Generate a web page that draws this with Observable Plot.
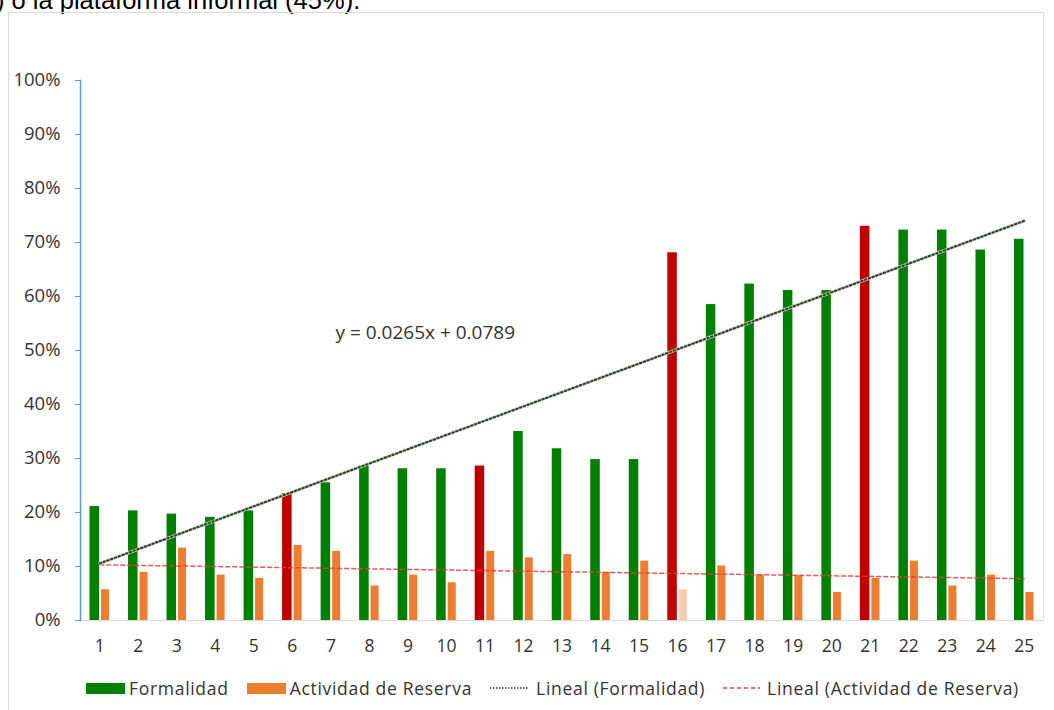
<!DOCTYPE html>
<html>
<head>
<meta charset="utf-8">
<script src="https://cdn.jsdelivr.net/npm/d3@7"></script>
<script src="https://cdn.jsdelivr.net/npm/@observablehq/plot@0.6"></script>
<style>
  html, body { margin: 0; padding: 0; background: #fff; }
  body { width: 1054px; height: 710px; position: relative; overflow: hidden; font-family: "Open Sans", sans-serif; }
  #doctext { position: absolute; left: -4px; top: -13px; font-family: "Liberation Sans", Arial, sans-serif; font-size: 25.5px; line-height: 27px; color: #000; white-space: nowrap; }
  #frameL { position: absolute; left: 8px; top: 12px; width: 1035px; height: 760px; border-left: 1px solid #D9D9D9; border-top: 1px solid #D9D9D9; }
  #frameR { position: absolute; left: 1043px; top: 12px; width: 0; height: 608px; border-left: 1px solid #E6E6E6; }
  #chart { position: absolute; left: 0; top: 60px; }
  #legend { position: absolute; left: 86px; top: 676px; display: flex; align-items: center; font-family: "Open Sans", sans-serif; font-size: 17.5px; letter-spacing: 0.7px; color: #333; white-space: nowrap; }
  #legend .item { display: flex; align-items: center; margin-right: 18px; }
  #legend .sw { width: 39px; height: 11px; margin-right: 4px; }
  #legend svg { margin-right: 7px; }
</style>
</head>
<body>
<div id="doctext">) o la plataforma informal (45%).</div>
<div id="frameL"></div>
<div id="frameR"></div>
<div id="chart"></div>
<div id="legend"></div>
<script>
// ---- data ----
const categories = d3.range(1, 26);
const formalidad = [0.211, 0.203, 0.197, 0.191, 0.203, 0.235, 0.255, 0.286, 0.281, 0.281,
                    0.286, 0.350, 0.318, 0.298, 0.298, 0.681, 0.585, 0.623, 0.611, 0.611,
                    0.730, 0.723, 0.723, 0.686, 0.706];
const reserva    = [0.057, 0.089, 0.134, 0.084, 0.078, 0.139, 0.128, 0.064, 0.084, 0.070,
                    0.128, 0.116, 0.122, 0.089, 0.110, 0.057, 0.101, 0.084, 0.083, 0.052,
                    0.078, 0.110, 0.064, 0.084, 0.052];
const highlighted = [6, 11, 16, 21];     // Formalidad bars drawn in red
const fadedReserva = [16];               // Actividad bar drawn pale
const yTicks = d3.range(0, 11).map(d => d / 10);
const seriesNames = ["Formalidad", "Actividad de Reserva", "Lineal (Formalidad)", "Lineal (Actividad de Reserva)"];
const equationLabel = "y = 0.0265x + 0.0789";

const colors = { green: "#008000", red: "#C00000", orange: "#ED7D31", pale: "#F8CBAD",
                 trendF: "#2F3D2F", trendFHalo: "#C5D0BA", trendR: "#E0403C", axisBlue: "#5B9BD5", grid: "#D9D9D9" };

// ---- tables ----
const rows = categories.map((c, i) => ({ cat: c, f: formalidad[i], r: reserva[i] }));

function linreg(xs, ys) {
  const mx = d3.mean(xs), my = d3.mean(ys);
  const b = d3.sum(xs, (x, i) => (x - mx) * (ys[i] - my)) / d3.sum(xs, x => (x - mx) ** 2);
  return [b, my - b * mx];
}
const [bF, aF] = linreg(categories, formalidad);
const [bR, aR] = linreg(categories, reserva);
const ends = [categories[0], categories[categories.length - 1]];
const trendF = ends.map(x => ({ cat: x, y: aF + bF * x }));
const trendR = ends.map(x => ({ cat: x, y: aR + bR * x }));

const plot = Plot.plot({
  width: 1054,
  height: 610,
  marginLeft: 80,
  marginRight: 11,
  marginTop: 20,
  marginBottom: 50,
  style: { fontFamily: "Open Sans, sans-serif", fontSize: "17px", color: "#333", background: "transparent" },
  x: { type: "band", domain: categories, padding: 0, round: false, label: null, axis: null },
  y: { domain: [0, 1], label: null, axis: null },
  marks: [
    Plot.ruleY([0], { stroke: colors.grid, strokeWidth: 1.2 }),
    Plot.barY(rows, {
      x: "cat", y: "f",
      fill: d => highlighted.includes(d.cat) ? colors.red : colors.green,
      insetLeft: 9.5, insetRight: 19.5
    }),
    Plot.barY(rows, {
      x: "cat", y: "r",
      fill: d => fadedReserva.includes(d.cat) ? colors.pale : colors.orange,
      insetLeft: 21, insetRight: 9.5
    }),
    Plot.line(trendR, { x: "cat", y: "y", stroke: colors.trendR, strokeWidth: 1.5, strokeDasharray: "4,3", strokeOpacity: 0.85 }),
    Plot.line(trendF, { x: "cat", y: "y", stroke: colors.trendFHalo, strokeWidth: 3.2 }),
    Plot.line(trendF, { x: "cat", y: "y", stroke: colors.trendF, strokeWidth: 2, strokeDasharray: "1.5,2.5" }),
    Plot.text([equationLabel], { frameAnchor: "top-left", dx: 255, dy: 245, textAnchor: "start", fontSize: 19, fill: "#333" }),
    Plot.frame({ anchor: "left", stroke: colors.axisBlue, strokeWidth: 1.5 }),
    Plot.axisY({ ticks: yTicks, tickFormat: d3.format(".0%"), tickSize: 5, tickPadding: 15, stroke: colors.axisBlue, fill: "#333", fontSize: 18.5, label: null }),
    Plot.axisX({ tickSize: 0, tickPadding: 19, fill: "#333", fontSize: 17.5, label: null })
  ]
});
document.getElementById("chart").appendChild(plot);

// ---- legend ----
const legend = document.getElementById("legend");
function addItem(html) { const d = document.createElement("div"); d.className = "item"; d.innerHTML = html; legend.appendChild(d); }
addItem(`<span class="sw" style="background:${colors.green}"></span><span>${seriesNames[0]}</span>`);
addItem(`<span class="sw" style="background:${colors.orange}"></span><span>${seriesNames[1]}</span>`);
addItem(`<svg width="39" height="6"><line x1="0" x2="39" y1="3" y2="3" stroke="${colors.trendF}" stroke-width="1.5" stroke-dasharray="1.5,1.5"/></svg><span>${seriesNames[2]}</span>`);
addItem(`<svg width="37" height="6"><line x1="0" x2="37" y1="3" y2="3" stroke="${colors.trendR}" stroke-width="1.5" stroke-dasharray="4,3"/></svg><span>${seriesNames[3]}</span>`);
</script>
</body>
</html>
